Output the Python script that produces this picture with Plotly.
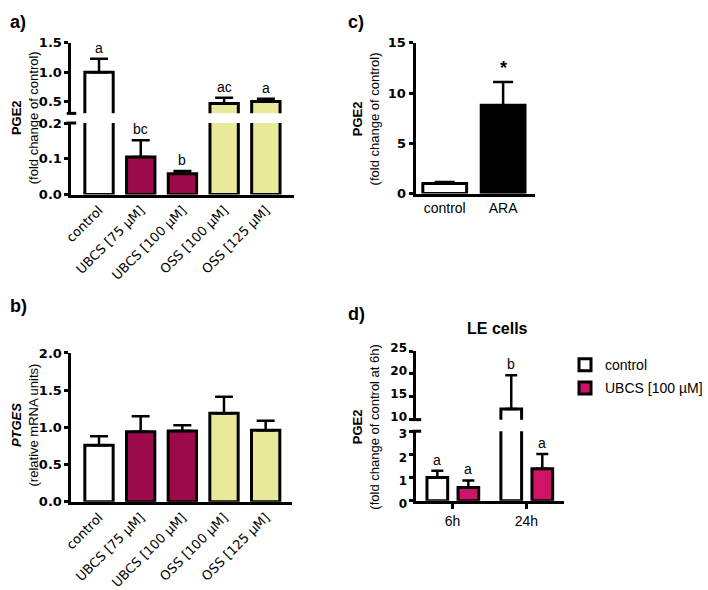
import plotly.graph_objects as go

# ---------------- data ----------------
cats_ab = ["control", "UBCS [75 µM]", "UBCS [100 µM]", "OSS [100 µM]", "OSS [125 µM]"]
pge2_a = [1.0, 0.105, 0.058, 0.467, 0.50]
pge2_a_err = [0.23, 0.047, 0.008, 0.098, 0.05]
letters_a = ["a", "bc", "b", "ac", "a"]

ptges_b = [0.76, 0.94, 0.95, 1.19, 0.96]
ptges_b_err = [0.12, 0.21, 0.08, 0.22, 0.13]

cats_c = ["control", "ARA"]
pge2_c = [1.0, 8.8]
pge2_c_err = [0.15, 2.3]

cats_d = ["6h", "24h"]
d_control = [1.0, 12.3]
d_control_err = [0.3, 7.4]
d_ubcs = [0.57, 1.38]
d_ubcs_err = [0.31, 0.64]
letters_d_control = ["a", "b"]
letters_d_ubcs = ["a", "a"]

# ---------------- style ----------------
W, H = 708, 590
MAROON = "#9c0a4b"
YELLOW = "#e8ea9a"
PINK = "#cf1369"
colors_ab = ["white", MAROON, MAROON, YELLOW, YELLOW]
LW = 3


def X(px):
    return px / W


def Y(px):
    return 1 - px / H


TICKFONT = dict(family="DejaVu Sans", size=13, color="black", weight="bold")
TICKFONT_D = dict(family="DejaVu Sans", size=12, color="black", weight="bold")
CATFONT = dict(family="DejaVu Sans", size=13, color="black")
CATFONT2 = dict(family="Liberation Sans", size=14, color="black")
LETTERFONT = dict(family="Liberation Sans", size=14, color="black")

fig = go.Figure()


def add_bar(x, y, err, color, xa, ya, width, offset=None, name=None, showlegend=False, errw=9):
    fig.add_trace(go.Bar(
        x=x, y=y, width=width, offset=offset,
        marker=dict(color=color, line=dict(color="black", width=LW)),
        error_y=dict(type="data", array=err, arrayminus=[0] * len(err), symmetric=False,
                     color="black", thickness=2.5, width=errw),
        xaxis=xa, yaxis=ya, name=name, showlegend=showlegend,
        legendgroup=name,
    ))


# Panel a: broken axis (upper: x/y, lower: x2/y2)
add_bar(cats_ab, pge2_a, pge2_a_err, colors_ab, "x", "y", 0.68)
add_bar(cats_ab, pge2_a, pge2_a_err, colors_ab, "x2", "y2", 0.68)
# Panel b
add_bar(cats_ab, ptges_b, ptges_b_err, colors_ab, "x3", "y3", 0.68)
# Panel c
add_bar(cats_c, pge2_c, pge2_c_err, ["white", "black"], "x4", "y4", 0.75, errw=10)
# Panel d: broken axis (upper x5/y5, lower x6/y6)
off_c, off_u, wd = -0.345, 0.075, 0.28
for xa, ya, sl in (("x5", "y5", False), ("x6", "y6", True)):
    add_bar(cats_d, d_control, d_control_err, "white", xa, ya, wd, offset=off_c,
            name="control", showlegend=sl, errw=6)
    add_bar(cats_d, d_ubcs, d_ubcs_err, PINK, xa, ya, wd, offset=off_u,
            name="UBCS [100 µM]", showlegend=sl, errw=6)

# ---------------- axes ----------------
dom = {
    "a_x": [X(67), X(302)], "a_up": [Y(107), Y(34)], "a_lo": [Y(191), Y(117)],
    "b_x": [X(67), X(300)], "b_y": [Y(509), Y(355)],
    "c_x": [X(430), X(556)], "c_y": [Y(190), Y(34)],
    "d_x": [X(431), X(587)], "d_up": [Y(424), Y(353)], "d_lo": [Y(508), Y(436)],
}

yax = dict(showline=True, linewidth=LW, linecolor="black", ticks="outside", ticklen=4,
           tickwidth=LW, tickcolor="black", tickfont=TICKFONT, showgrid=False,
           zeroline=False)
xax = dict(showline=True, linewidth=LW, linecolor="black", showgrid=False,
           zeroline=False, type="category")

fig.update_layout(
    width=W, height=H, margin=dict(l=0, r=0, t=0, b=0),
    paper_bgcolor="white", plot_bgcolor="white", barmode="overlay",
    xaxis=dict(xax, domain=dom["a_x"], anchor="y", range=[-0.66, 4.68], visible=False),
    yaxis=dict(yax, domain=dom["a_up"], anchor="x", range=[0.3, 1.5],
               tickvals=[0.5, 1.0, 1.5], ticktext=["0.5", "1.0", "1.5"]),
    xaxis2=dict(xax, domain=dom["a_x"], anchor="y2", range=[-0.66, 4.68],
                tickangle=-45, tickfont=CATFONT, ticks=""),
    yaxis2=dict(yax, domain=dom["a_lo"], anchor="x2", range=[0, 0.2],
                tickvals=[0, 0.1, 0.2], ticktext=["0.0", "0.1", "0.2"]),
    xaxis3=dict(xax, domain=dom["b_x"], anchor="y3", range=[-0.66, 4.64],
                tickangle=-45, tickfont=CATFONT, ticks=""),
    yaxis3=dict(yax, domain=dom["b_y"], anchor="x3", range=[0, 2],
                tickvals=[0, 0.5, 1.0, 1.5, 2.0], ticktext=["0.0", "0.5", "1.0", "1.5", "2.0"]),
    xaxis4=dict(xax, domain=dom["c_x"], anchor="y4", range=[-0.5, 1.545],
                tickfont=CATFONT2, ticks=""),
    yaxis4=dict(yax, domain=dom["c_y"], anchor="x4", range=[0, 15], tickvals=[0, 5, 10, 15]),
    xaxis5=dict(xax, domain=dom["d_x"], anchor="y5", range=[-0.487, 1.513], visible=False),
    yaxis5=dict(yax, domain=dom["d_up"], anchor="x5", range=[10, 25], tickvals=[10, 15, 20, 25],
                tickfont=TICKFONT_D, ticklabelshift=-3),
    xaxis6=dict(xax, domain=dom["d_x"], anchor="y6", range=[-0.487, 1.513],
                tickfont=CATFONT2, ticks="outside", ticklen=5, tickwidth=LW, tickcolor="black"),
    yaxis6=dict(yax, domain=dom["d_lo"], anchor="x6", range=[0, 3], tickvals=[0, 1, 2, 3],
                tickfont=TICKFONT_D, ticklabelshift=3),
    legend=dict(x=X(588), y=Y(351), xanchor="left", yanchor="top",
                font=dict(family="Liberation Sans", size=14, color="black"),
                bgcolor="rgba(0,0,0,0)", tracegroupgap=2),
)

# break marks on the broken y axes
shapes = []
for xdom, ypos in ((dom["a_x"], dom["a_up"][0]), (dom["a_x"], dom["a_lo"][1]),
                   (dom["d_x"], dom["d_up"][0]), (dom["d_x"], dom["d_lo"][1])):
    shapes.append(dict(type="line", xref="paper", yref="paper",
                       x0=xdom[0] - 5 / W, x1=xdom[0] + 5 / W, y0=ypos, y1=ypos,
                       line=dict(color="black", width=LW)))
fig.update_layout(shapes=shapes)

# ---------------- annotations ----------------
ann = []
# letters panel a
for i, (v, e, t) in enumerate(zip(pge2_a, pge2_a_err, letters_a)):
    top = v + e
    ya = "y" if top > 0.2 else "y2"
    xa = "x" if ya == "y" else "x2"
    ann.append(dict(x=i, y=top, xref=xa, yref=ya, text=t, showarrow=False,
                    yanchor="bottom", yshift=1, font=LETTERFONT))
# star panel c
ann.append(dict(x=1, y=pge2_c[1] + pge2_c_err[1], xref="x4", yref="y4", text="<b>*</b>",
                showarrow=False, yanchor="bottom", yshift=2,
                font=dict(family="Liberation Sans", size=18, color="black")))
# letters panel d
for vals, errs, lets, off in ((d_control, d_control_err, letters_d_control, off_c),
                              (d_ubcs, d_ubcs_err, letters_d_ubcs, off_u)):
    for i, (v, e, t) in enumerate(zip(vals, errs, lets)):
        top = v + e
        ya = "y5" if top > 3 else "y6"
        xa = "x5" if ya == "y5" else "x6"
        ann.append(dict(x=i + off + wd / 2, y=top, xref=xa, yref=ya, text=t, showarrow=False,
                        yanchor="bottom", yshift=1, font=LETTERFONT))

# y-axis titles
TITLEFONT = dict(family="Liberation Sans", size=13, color="black")
for x, y, txt in ((18, 112, "<b>PGE2</b><br>(fold change of control)"),
                  (18, 430, "<b><i>PTGES</i></b><br>(relative mRNA units)"),
                  (378, 113, "<b>PGE2</b><br>(fold change of control)"),
                  (378, 431, "<b>PGE2</b><br>(fold change of control at 6h)")):
    ann.append(dict(x=X(x), y=Y(y), xref="paper", yref="paper", text=txt, textangle=-90,
                    showarrow=False, xanchor="center", yanchor="middle", font=TITLEFONT))

# panel labels
PLF = dict(family="Liberation Sans", size=18, color="black")
for x, y, t in ((0, 12, "<b>a)</b>"), (0, 306, "<b>b)</b>"), (357, 12, "<b>c)</b>"),
                (357, 315, "<b>d)</b>")):
    ann.append(dict(x=X(x), y=Y(y), xref="paper", yref="paper", text=t, showarrow=False,
                    xanchor="left", yanchor="middle", font=PLF))

# panel d title
ann.append(dict(x=X(517), y=Y(330), xref="paper", yref="paper", text="<b>LE cells</b>",
                showarrow=False, xanchor="center", yanchor="middle",
                font=dict(family="Liberation Sans", size=16, color="black")))

fig.update_layout(annotations=ann)
fig.write_html("out.html")
